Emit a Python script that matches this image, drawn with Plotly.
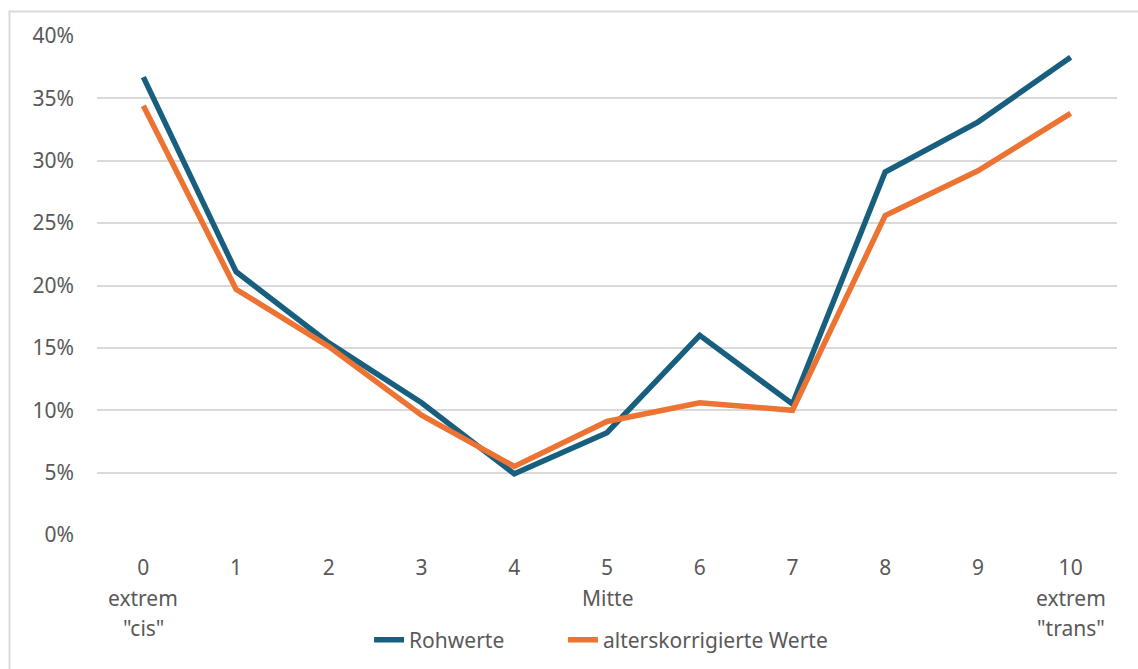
import plotly.graph_objects as go

categories = [0, 1, 2, 3, 4, 5, 6, 7, 8, 9, 10]
tick_labels = ["0", "1", "2", "3", "4", "5", "6", "7", "8", "9", "10"]
rohwerte = [0.367, 0.211, 0.154, 0.106, 0.049, 0.082, 0.160, 0.105, 0.291, 0.331, 0.383]
alterskorrigiert = [0.344, 0.197, 0.151, 0.096, 0.055, 0.091, 0.106, 0.100, 0.256, 0.292, 0.338]
sub_labels = [(0, "extrem", 1), (0, "\"cis\"", 2), (5, "Mitte", 1), (10, "extrem", 1), (10, "\"trans\"", 2)]

BLUE = "#185F7F"
ORANGE = "#EC7332"
GREY = "#595959"
FONT = "Noto Sans"
FS = 21

fig = go.Figure()
fig.add_trace(go.Scatter(x=categories, y=rohwerte, mode="lines", name="Rohwerte",
                         line=dict(color=BLUE, width=5.5), legend="legend"))
fig.add_trace(go.Scatter(x=categories, y=alterskorrigiert, mode="lines", name="alterskorrigierte Werte",
                         line=dict(color=ORANGE, width=5.5), legend="legend2"))

annotations = []
for cx, txt, row in sub_labels:
    annotations.append(dict(x=cx, y=0, xref="x", yref="y", text=txt, showarrow=False,
                            yanchor="middle", xanchor="center", yshift=-(33 + 30 * row),
                            font=dict(family=FONT, size=FS, color=GREY)))

leg_common = dict(orientation="h", yanchor="middle", xanchor="left", y=0.0433,
                  xref="container", yref="container",
                  font=dict(family=FONT, size=FS, color=GREY), bgcolor="rgba(0,0,0,0)")

fig.update_layout(
    width=1138, height=669,
    margin=dict(l=97, r=21, t=36, b=134, autoexpand=False),
    paper_bgcolor="white", plot_bgcolor="white",
    font=dict(family=FONT, size=FS, color=GREY),
    showlegend=True,
    legend=dict(x=0.3243, **leg_common),
    legend2=dict(x=0.4947, **leg_common),
    xaxis=dict(range=[-0.5, 10.5], tickvals=categories, ticktext=tick_labels,
               showgrid=False, zeroline=False, showline=False, ticks="",
               ticklabelstandoff=18, tickfont=dict(family=FONT, size=FS, color=GREY)),
    yaxis=dict(range=[0, 0.40], dtick=0.05, tickformat=".0%", showgrid=True,
               gridcolor="#D9D9D9", gridwidth=1.5, zeroline=False, showline=False,
               ticks="", ticklabelstandoff=22, tickfont=dict(family=FONT, size=FS, color=GREY)),
    annotations=annotations,
    shapes=[dict(type="rect", xref="paper", yref="paper", x0=-0.0858, x1=1.2,
                 y0=-0.6, y1=1.0491, line=dict(color="#D9D9D9", width=2), layer="below")],
)

fig.write_html("out.html", config={"displayModeBar": False},
               post_script="document.body.style.margin='0';document.body.style.overflow='hidden';")
